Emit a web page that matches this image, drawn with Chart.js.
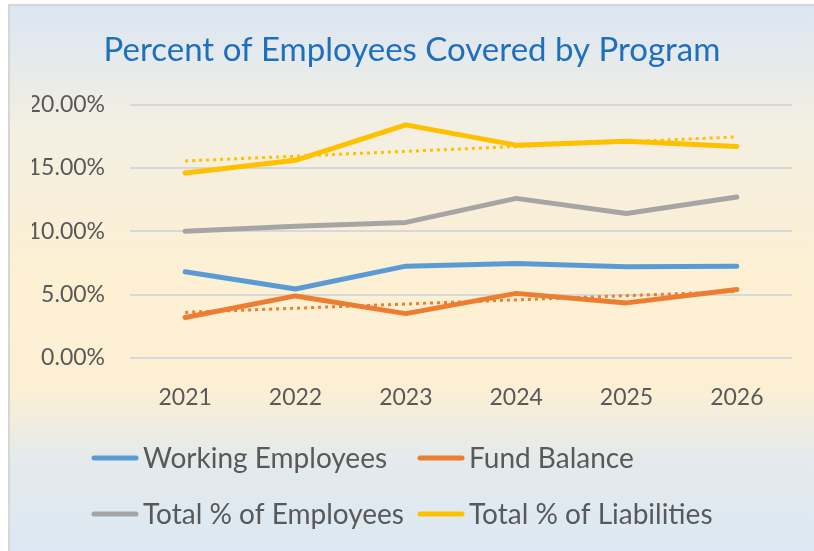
<!DOCTYPE html>
<html>
<head>
<meta charset="utf-8">
<script src="https://cdn.jsdelivr.net/npm/chart.js@4.4.1/dist/chart.umd.min.js"></script>
<style>
  html, body { margin: 0; padding: 0; background: #fff; }
  .chart-wrapper {
    position: absolute;
    left: 8px;
    top: 4px;
    width: 806px;
    height: 547px;
    border-left: 2px solid #d6d6d6;
    border-top: 2px solid #d6d6d6;
    background: linear-gradient(to bottom, #dbe6f3 0%, #f3efe2 22%, #fdf0d3 50%, #fcefd4 70%, #e4eaec 83%, #dce8f4 100%);
  }
</style>
</head>
<body>
<div class="chart-wrapper">
  <canvas id="line-coverage" width="804" height="545"></canvas>
</div>
<script>
const years = ["2021", "2022", "2023", "2024", "2025", "2026"];
const workingEmployees = [6.8, 5.45, 7.25, 7.45, 7.2, 7.25];
const fundBalance = [3.2, 4.9, 3.5, 5.1, 4.35, 5.4];
const totalEmployees = [10.0, 10.4, 10.7, 12.6, 11.4, 12.7];
const totalLiabilities = [14.6, 15.6, 18.4, 16.8, 17.1, 16.7];
// trendlines, read at the first and last year
const liabilitiesTrend = [15.55, null, null, null, null, 17.45];
const fundTrend = [3.6, null, null, null, null, 5.25];

const FONT = "Lato";
const TEXT = "#595959";

// legend drawn in two fixed columns like the original
const columnLegend = {
  id: "columnLegend",
  afterDraw(chart) {
    const ctx = chart.ctx;
    const items = chart.data.datasets.filter((d) => !d.trend);
    const cols = [82, 408];
    const rows = [452, 508];
    ctx.save();
    ctx.font = "28px " + FONT;
    ctx.fillStyle = TEXT;
    ctx.textBaseline = "middle";
    items.forEach((ds, i) => {
      const x = cols[i % 2];
      const y = rows[Math.floor(i / 2)];
      ctx.strokeStyle = ds.borderColor;
      ctx.lineWidth = 5;
      ctx.lineCap = "round";
      ctx.beginPath();
      ctx.moveTo(x + 2, y);
      ctx.lineTo(x + 44, y);
      ctx.stroke();
      ctx.fillText(ds.label, x + 51, y + 1);
    });
    ctx.restore();
  },
};

const line = (label, data, color) => ({
  label: label,
  data: data,
  borderColor: color,
  backgroundColor: color,
  borderWidth: 5,
  borderCapStyle: "round",
  borderJoinStyle: "round",
  pointRadius: 0,
  tension: 0,
  order: 2,
});

const trend = (data, color) => ({
  label: "trend",
  trend: true,
  data: data,
  borderColor: color,
  borderWidth: 3,
  borderDash: [3, 4],
  pointRadius: 0,
  spanGaps: true,
  order: 1,
});

var chartLine = new Chart(document.getElementById("line-coverage"), {
  type: "line",
  data: {
    labels: years,
    datasets: [
      line("Working Employees", workingEmployees, "#5B9BD5"),
      line("Fund Balance", fundBalance, "#ED7D31"),
      line("Total % of Employees", totalEmployees, "#A5A5A5"),
      line("Total % of Liabilities", totalLiabilities, "#FFC000"),
      trend(liabilitiesTrend, "#FFC000"),
      trend(fundTrend, "#ED7D31"),
    ],
  },
  options: {
    responsive: false,
    animation: false,
    layout: {
      padding: { left: 22, right: 22, top: 0, bottom: 133 },
    },
    plugins: {
      legend: { display: false },
      tooltip: { enabled: false },
      title: {
        display: true,
        text: "Percent of Employees Covered by Program",
        color: "#1F6FBF",
        font: { family: FONT, size: 33, weight: "normal" },
        lineHeight: 1.2,
        padding: { top: 25, bottom: 34 },
      },
    },
    scales: {
      x: {
        offset: true,
        afterFit: function (scale) {
          scale.height = 60;
        },
        grid: { display: false, drawTicks: false },
        border: { display: false },
        ticks: {
          color: TEXT,
          padding: 26,
          font: { family: FONT, size: 23 },
        },
      },
      y: {
        min: 0,
        max: 20,
        afterFit: function (scale) {
          scale.width = 98;
        },
        grid: { color: "#d6d8da", lineWidth: 2, drawTicks: false },
        border: { display: false },
        ticks: {
          stepSize: 5,
          color: TEXT,
          padding: 25,
          font: { family: FONT, size: 23 },
          callback: (v) => v.toFixed(2) + "%",
        },
      },
    },
  },
  plugins: [columnLegend],
});
</script>
</body>
</html>
